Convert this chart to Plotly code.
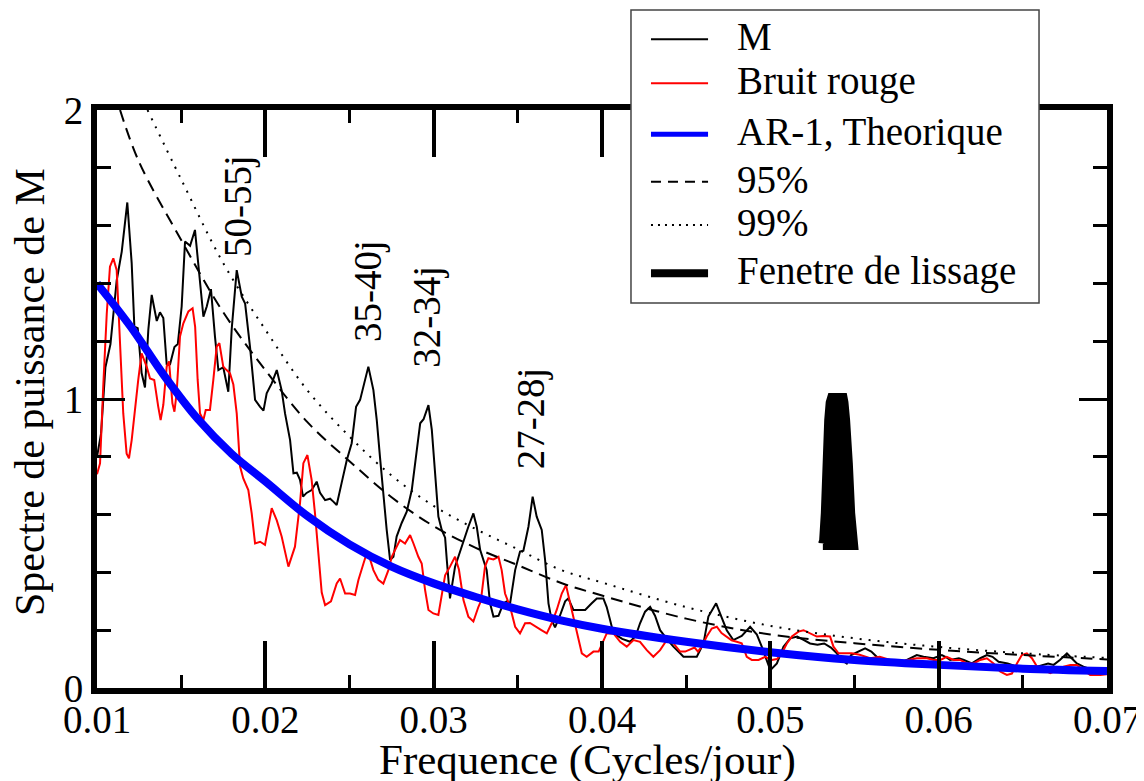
import plotly.graph_objects as go

# ---------------- data ----------------
m_freq = [0.0100, 0.01024, 0.0105, 0.0108, 0.01117, 0.01147, 0.0118, 0.01206, 0.01222, 0.01242,
          0.01265, 0.01285, 0.01305, 0.01325, 0.01355, 0.01374, 0.01394, 0.01414, 0.01434, 0.0146,
          0.0148, 0.01503, 0.01523, 0.01553, 0.01582, 0.01606, 0.01632, 0.01652, 0.01677, 0.01701,
          0.01721, 0.0175, 0.0178, 0.0180, 0.0183, 0.0186, 0.0188, 0.01909, 0.01939, 0.01969,
          0.01989, 0.02008, 0.02038, 0.02068, 0.02097, 0.02117, 0.02147, 0.02167, 0.02187, 0.02206,
          0.02224, 0.02245, 0.02275, 0.02305, 0.02325, 0.02355, 0.02385, 0.02404, 0.02424, 0.02453,
          0.02484, 0.02513, 0.02539, 0.02563, 0.02592, 0.02612, 0.02642, 0.02662, 0.02681, 0.02701,
          0.02721, 0.02741, 0.02761, 0.0278, 0.0281, 0.0284, 0.0287, 0.0290, 0.0292, 0.0294,
          0.02969, 0.02989, 0.03008, 0.03028, 0.03048, 0.03068, 0.03078, 0.03097, 0.03127, 0.03177,
          0.03206, 0.03236, 0.03256, 0.03276, 0.03315, 0.03335, 0.03355, 0.03385, 0.03414, 0.03434,
          0.03454, 0.03484, 0.03513, 0.03533, 0.03563, 0.03588, 0.03612, 0.03642, 0.03662, 0.03682,
          0.03701, 0.03721, 0.0375, 0.03781, 0.0380, 0.0383, 0.0386, 0.0390, 0.03939, 0.03969,
          0.04008, 0.04028, 0.04048, 0.04068, 0.0412, 0.04167, 0.0420, 0.04226, 0.04256, 0.04286,
          0.04315, 0.04345, 0.04385, 0.04424, 0.04464, 0.04484, 0.04563, 0.04603, 0.04632, 0.04678,
          0.0471, 0.04741, 0.0478, 0.0483, 0.0488, 0.0492, 0.04949, 0.04979, 0.0500, 0.05039,
          0.05078, 0.05118, 0.0516, 0.0520, 0.05236, 0.0528, 0.0532, 0.0536, 0.05395, 0.05424,
          0.05454, 0.0548, 0.05523, 0.05563, 0.0560, 0.05632, 0.0569, 0.05751, 0.0579, 0.0587,
          0.0591, 0.05969, 0.06019, 0.0604, 0.06068, 0.0612, 0.0615, 0.06197, 0.06247, 0.06286,
          0.0632, 0.06356, 0.0641, 0.06465, 0.06524, 0.06584, 0.0665, 0.06683, 0.0672, 0.06762,
          0.0679, 0.06821, 0.0686, 0.0692, 0.0698, 0.0700]
m_power = [0.80, 0.88, 1.11, 1.19, 1.41, 1.51, 1.68, 1.47, 1.25, 1.245,
           1.09, 1.04, 1.24, 1.36, 1.27, 1.30, 1.28, 1.12, 1.12, 1.18,
           1.19, 1.32, 1.545, 1.53, 1.585, 1.45, 1.285, 1.32, 1.38, 1.215,
           1.10, 1.11, 1.025, 1.24, 1.446, 1.354, 1.33, 1.18, 0.997, 0.973,
           0.96, 1.02, 1.054, 1.10, 1.03, 0.95, 0.858, 0.743, 0.745, 0.72,
           0.662, 0.675, 0.685, 0.714, 0.675, 0.65, 0.655, 0.645, 0.633, 0.709,
           0.789, 0.847, 0.973, 0.997, 1.066, 1.112, 1.031, 0.927, 0.80, 0.662,
           0.547, 0.443, 0.454, 0.524, 0.571, 0.61, 0.685, 0.824, 0.916, 0.93,
           0.979, 0.893, 0.754, 0.593, 0.547, 0.52, 0.443, 0.31, 0.42, 0.51,
           0.558, 0.604, 0.558, 0.478, 0.408, 0.293, 0.247, 0.25, 0.293, 0.30,
           0.293, 0.408, 0.472, 0.475, 0.558, 0.662, 0.593, 0.547, 0.443, 0.293,
           0.235, 0.21, 0.25, 0.30, 0.31, 0.27, 0.27, 0.27, 0.293, 0.31,
           0.31, 0.28, 0.235, 0.189, 0.17, 0.160, 0.18, 0.224, 0.264, 0.281,
           0.25, 0.20, 0.17, 0.143, 0.12, 0.108, 0.108, 0.154, 0.247, 0.293,
           0.245, 0.20, 0.166, 0.18, 0.212, 0.185, 0.143, 0.097, 0.062, 0.085,
           0.143, 0.172, 0.178, 0.166, 0.154, 0.15, 0.154, 0.14, 0.12, 0.097,
           0.085, 0.114, 0.126, 0.137, 0.126, 0.108, 0.097, 0.08, 0.091, 0.114,
           0.108, 0.103, 0.114, 0.108, 0.097, 0.103, 0.097, 0.085, 0.103, 0.114,
           0.108, 0.091, 0.085, 0.074, 0.074, 0.074, 0.085, 0.08, 0.097, 0.12,
           0.103, 0.085, 0.074, 0.062, 0.057, 0.055]

red_freq = [0.0100, 0.01018, 0.01037, 0.01058, 0.01077, 0.01097, 0.01117, 0.01137, 0.01156, 0.01176,
            0.0119, 0.01206, 0.01226, 0.01245, 0.01265, 0.01295, 0.01315, 0.0134, 0.01364, 0.01378,
            0.01394, 0.01414, 0.01428, 0.01448, 0.0146, 0.01473, 0.01493, 0.01513, 0.01543, 0.01568,
            0.01583, 0.01598, 0.01612, 0.01632, 0.01646, 0.01671, 0.01691, 0.01711, 0.01727, 0.0175,
            0.0177, 0.0179, 0.0181, 0.0183, 0.0185, 0.01869, 0.01899, 0.01919, 0.01939, 0.01969,
            0.01998, 0.02038, 0.02068, 0.02097, 0.02137, 0.02176, 0.02206, 0.02226, 0.0225, 0.02275,
            0.02295, 0.02315, 0.02335, 0.02355, 0.0239, 0.02424, 0.02444, 0.02474, 0.02503, 0.02533,
            0.02553, 0.02583, 0.02602, 0.0262, 0.02642, 0.02671, 0.02701, 0.02731, 0.02751, 0.02771,
            0.0280, 0.0283, 0.0286, 0.0288, 0.02909, 0.02929, 0.02949, 0.02969, 0.02998, 0.03028,
            0.03048, 0.03068, 0.03097, 0.03127, 0.0315, 0.03177, 0.03206, 0.03236, 0.03266, 0.0328,
            0.03305, 0.03325, 0.03355, 0.03385, 0.03404, 0.03424, 0.03454, 0.03484, 0.03513, 0.03543,
            0.03572, 0.03612, 0.0364, 0.03672, 0.03701, 0.03731, 0.03761, 0.03786, 0.0381, 0.0384,
            0.0386, 0.0388, 0.03909, 0.03949, 0.0398, 0.04008, 0.04028, 0.04068, 0.04108, 0.04147,
            0.04187, 0.04226, 0.04266, 0.04305, 0.04345, 0.04385, 0.04424, 0.04464, 0.04494, 0.0455,
            0.0457, 0.04592, 0.04622, 0.04652, 0.04682, 0.0471, 0.04741, 0.0477, 0.0480, 0.0483,
            0.0486, 0.0489, 0.0493, 0.04969, 0.05009, 0.05039, 0.05068, 0.05098, 0.05128, 0.05167,
            0.05197, 0.05236, 0.05276, 0.05315, 0.05355, 0.05375, 0.05405, 0.05444, 0.05484, 0.0553,
            0.05593, 0.0565, 0.05712, 0.05771, 0.0582, 0.0587, 0.0593, 0.0597, 0.0601, 0.06048,
            0.06088, 0.06128, 0.06167, 0.06207, 0.06247, 0.06286, 0.06326, 0.06365, 0.06405, 0.06435,
            0.06465, 0.06494, 0.06524, 0.06554, 0.06584, 0.06624, 0.06663, 0.06703, 0.06742, 0.06782,
            0.06821, 0.06861, 0.0690, 0.0696, 0.0700]
red_power = [0.74, 0.777, 1.043, 1.296, 1.458, 1.487, 1.446, 1.181, 0.95, 0.811,
             0.795, 0.858, 0.973, 1.066, 1.158, 1.112, 1.071, 1.066, 0.973, 0.927,
             0.98, 1.112, 1.13, 0.985, 0.956, 1.02, 1.216, 1.262, 1.303, 1.314,
             1.25, 1.066, 0.95, 0.927, 0.962, 0.962, 1.066, 1.181, 1.193, 1.112,
             1.10, 1.089, 1.05, 0.95, 0.766, 0.725, 0.685, 0.604, 0.50, 0.506,
             0.495, 0.622, 0.58, 0.524, 0.42, 0.489, 0.64, 0.778, 0.806, 0.72,
             0.604, 0.47, 0.33, 0.287, 0.30, 0.362, 0.379, 0.327, 0.327, 0.322,
             0.374, 0.431, 0.466, 0.45, 0.408, 0.374, 0.361, 0.408, 0.454, 0.478,
             0.512, 0.50, 0.529, 0.50, 0.454, 0.431, 0.339, 0.27, 0.258, 0.253,
             0.316, 0.39, 0.42, 0.454, 0.41, 0.304, 0.247, 0.23, 0.281, 0.30,
             0.42, 0.449, 0.445, 0.454, 0.408, 0.327, 0.281, 0.212, 0.189, 0.224,
             0.225, 0.212, 0.20, 0.189, 0.224, 0.27, 0.327, 0.356, 0.293, 0.224,
             0.166, 0.12, 0.108, 0.126, 0.126, 0.16, 0.189, 0.189, 0.16, 0.143,
             0.166, 0.16, 0.131, 0.108, 0.131, 0.166, 0.155, 0.126, 0.126, 0.14,
             0.126, 0.143, 0.178, 0.206, 0.212, 0.19, 0.178, 0.165, 0.16, 0.155,
             0.108, 0.097, 0.097, 0.108, 0.097, 0.10, 0.12, 0.154, 0.178, 0.195,
             0.20, 0.19, 0.178, 0.18, 0.178, 0.143, 0.12, 0.12, 0.12, 0.115,
             0.103, 0.108, 0.097, 0.091, 0.097, 0.103, 0.103, 0.097, 0.097, 0.108,
             0.097, 0.097, 0.085, 0.085, 0.097, 0.103, 0.085, 0.057, 0.045, 0.05,
             0.085, 0.114, 0.12, 0.103, 0.074, 0.062, 0.051, 0.062, 0.074, 0.08,
             0.08, 0.062, 0.045, 0.045, 0.048]

ar1_freq = [0.010, 0.012, 0.014, 0.016, 0.018, 0.020, 0.0225, 0.025, 0.0275, 0.030,
            0.0325, 0.035, 0.0375, 0.040, 0.045, 0.050, 0.055, 0.060, 0.065, 0.070]
ar1_power = [1.40, 1.25, 1.08, 0.93, 0.81, 0.715, 0.595, 0.497, 0.42, 0.362,
             0.315, 0.272, 0.235, 0.205, 0.160, 0.124, 0.097, 0.080, 0.067, 0.059]

p95_freq = [0.01137, 0.0125, 0.015, 0.0175, 0.020, 0.0225, 0.025, 0.0275, 0.030, 0.0325,
            0.035, 0.0375, 0.040, 0.045, 0.050, 0.055, 0.060, 0.065, 0.070]
p95_power = [2.0, 1.82, 1.55, 1.30, 1.10, 0.92, 0.785, 0.66, 0.56, 0.485,
             0.425, 0.365, 0.32, 0.24, 0.185, 0.155, 0.132, 0.114, 0.099]

p99_freq = [0.0130, 0.015, 0.0175, 0.020, 0.0225, 0.025, 0.0275, 0.030, 0.0325, 0.035,
            0.0375, 0.040, 0.045, 0.050, 0.055, 0.060, 0.065, 0.070]
p99_power = [2.0, 1.76, 1.47, 1.24, 1.03, 0.87, 0.735, 0.63, 0.55, 0.48,
             0.41, 0.365, 0.28, 0.215, 0.172, 0.142, 0.12, 0.104]

# smoothing window outline (frequency, amplitude)
win_freq = [0.0529, 0.05296, 0.05306, 0.05316, 0.05326, 0.05335, 0.05349, 0.05449, 0.05458,
            0.05468, 0.05484, 0.05498, 0.05518, 0.05318, 0.05318]
win_amp = [0.502, 0.512, 0.606, 0.779, 0.927, 0.99, 1.017, 1.017, 0.99,
           0.927, 0.779, 0.606, 0.481, 0.481, 0.50]

peak_labels = ["50-55j", "35-40j", "32-34j", "27-28j"]
peak_freq = [0.01838, 0.0261, 0.0296, 0.0358]
peak_pos = [1.668, 1.374, 1.284, 0.934]

x_ticks = [0.01, 0.02, 0.03, 0.04, 0.05, 0.06, 0.07]
y_ticks = [0, 1, 2]

FONT = "Liberation Serif"
FS = 39

series = [
    dict(name="M", x=m_freq, y=m_power,
         line=dict(color="black", width=2)),
    dict(name="Bruit rouge", x=red_freq, y=red_power,
         line=dict(color="#ff0000", width=2)),
    dict(name="AR-1, Theorique", x=ar1_freq, y=ar1_power,
         line=dict(color="#0000ff", width=8, shape="spline")),
    dict(name="95%", x=p95_freq, y=p95_power,
         line=dict(color="black", width=2, dash="12px,7px", shape="spline")),
    dict(name="99%", x=p99_freq, y=p99_power,
         line=dict(color="black", width=2, dash="2px,7px", shape="spline")),
]

fig = go.Figure()
for s in series:
    fig.add_trace(go.Scatter(x=s["x"], y=s["y"], mode="lines", name=s["name"],
                             line=s["line"], showlegend=False))
fig.add_trace(go.Scatter(x=win_freq, y=win_amp, mode="lines", name="Fenetre de lissage",
                         fill="toself", fillcolor="black",
                         line=dict(color="black", width=2), showlegend=False))

for txt, fx, fy in zip(peak_labels, peak_freq, peak_pos):
    fig.add_annotation(x=fx, y=fy, xref="x", yref="y", text=txt, textangle=-90,
                       showarrow=False, xanchor="center", yanchor="middle",
                       font=dict(family=FONT, size=FS, color="black"))

# ---- legend box (drawn as shapes + text so its geometry matches) ----
leg_names = ["M", "Bruit rouge", "AR-1, Theorique", "95%", "99%", "Fenetre de lissage"]
leg_styles = [dict(color="black", width=2), dict(color="#ff0000", width=2),
              dict(color="#0000ff", width=5), dict(color="black", width=2, dash="10px,7px"),
              dict(color="black", width=2, dash="2px,5px"), dict(color="black", width=8)]
leg_rows = [1.1223, 1.0462, 0.9580, 0.8760, 0.8010, 0.7175]

fig.add_shape(type="rect", xref="paper", yref="paper", x0=0.5287, x1=0.9327,
              y0=0.6661, y1=1.1730, fillcolor="white",
              line=dict(color="#444444", width=1.5), layer="above")
for name, sty, ry in zip(leg_names, leg_styles, leg_rows):
    fig.add_shape(type="line", xref="paper", yref="paper", x0=0.5485, x1=0.6050,
                  y0=ry, y1=ry, line=sty, layer="above")
    fig.add_annotation(x=0.6317, y=ry + 0.004, xref="paper", yref="paper", text=name,
                       showarrow=False, xanchor="left", yanchor="middle",
                       font=dict(family=FONT, size=FS, color="black"))

# ---- axis titles ----
fig.add_annotation(x=0.486, y=-0.124, xref="paper", yref="paper",
                   text="Frequence (Cycles/jour)", showarrow=False,
                   xanchor="center", yanchor="middle",
                   font=dict(family=FONT, size=43, color="black"))
fig.add_annotation(x=-0.0663, y=0.512, xref="paper", yref="paper",
                   text="Spectre de puissance de M", textangle=-90, showarrow=False,
                   xanchor="center", yanchor="middle",
                   font=dict(family=FONT, size=42, color="black"))

fig.update_layout(
    width=1136, height=773, autosize=False,
    margin=dict(l=89, r=37, t=102, b=93, pad=0),
    paper_bgcolor="white", plot_bgcolor="white",
    font=dict(family=FONT, size=FS, color="black"),
    showlegend=False,
    xaxis=dict(range=[0.01, 0.07], tickvals=x_ticks, tickformat=".2f",
               showgrid=False, zeroline=False, automargin=False,
               showline=True, linewidth=6, linecolor="black", mirror="allticks",
               ticks="inside", ticklen=47, tickwidth=4, tickcolor="black",
               ticklabelstandoff=-8,
               minor=dict(dtick=0.005, tick0=0.01, ticks="inside", ticklen=13,
                          tickwidth=3, tickcolor="black", showgrid=False),
               tickfont=dict(family=FONT, size=FS)),
    yaxis=dict(range=[0, 2], tickvals=y_ticks, tickformat="d",
               showgrid=False, zeroline=False, automargin=False,
               showline=True, linewidth=6, linecolor="black", mirror="allticks",
               ticks="inside", ticklen=28, tickwidth=3, tickcolor="black",
               minor=dict(dtick=0.2, tick0=0, ticks="inside", ticklen=14,
                          tickwidth=3, tickcolor="black", showgrid=False),
               tickfont=dict(family=FONT, size=FS)),
)

fig.write_html("out.html")
